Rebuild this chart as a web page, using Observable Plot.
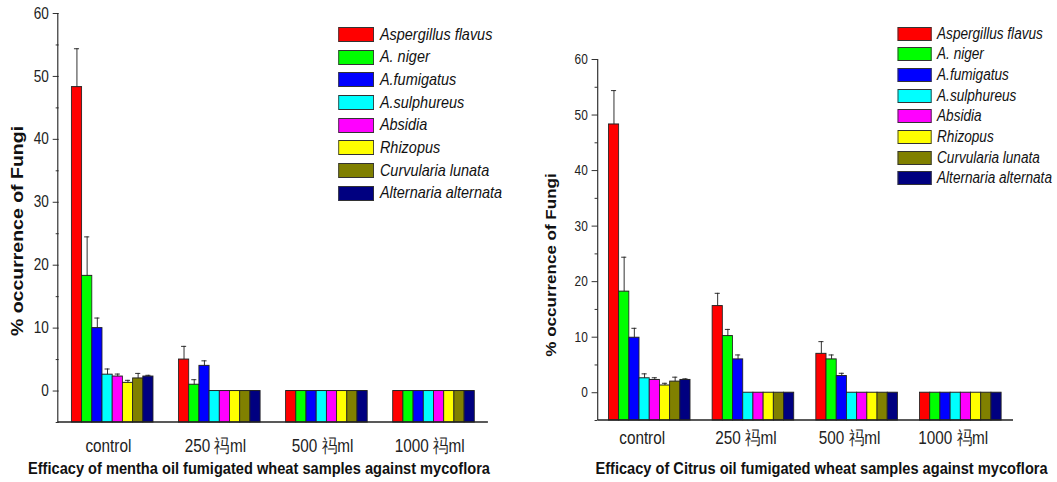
<!DOCTYPE html>
<html><head><meta charset="utf-8">
<script src="https://cdn.jsdelivr.net/npm/d3@7"></script>
<script src="https://cdn.jsdelivr.net/npm/@observablehq/plot@0.6"></script>
<style>
body{margin:0;background:#fff;overflow:hidden}
#stage{position:absolute;left:0;top:0;width:1244px;height:482px;transform:scaleX(0.85);transform-origin:0 0;font-family:Arial,"Liberation Sans",sans-serif;color:#111}
.panel{position:absolute;top:0}
.ytitle{position:absolute;font-weight:bold;white-space:nowrap;transform:translate(-50%,-50%) rotate(-90deg)}
.caption{position:absolute;font-weight:bold;white-space:nowrap;transform:translateX(-50%);font-size:17.2px;line-height:18px}
.legend{position:absolute}
.legend .row{display:flex;align-items:center}
.legend .sw{border:1px solid #333;box-sizing:border-box}
.legend .lab{font-style:italic;white-space:nowrap}
</style></head><body><div id="stage"></div>
<script>
// ---- data ----
const fungi = ["Aspergillus flavus","A. niger","A.fumigatus","A.sulphureus","Absidia","Rhizopus","Curvularia lunata","Alternaria alternata"];
const fungusColors = ["#ff0000","#00ff00","#0000ff","#00ffff","#ff00ff","#ffff00","#808000","#000080"];
const doses = ["control","250 祃ml","500 祃ml","1000 祃ml"];
const yTicks = [0,10,20,30,40,50,60];
const yMinorTicks = [-5,5,15,25,35,45,55];
const yDomain = [-5,60];

// mentha oil: mean values and upper error (sd) per dose, in fungi order
const menthaControl = [48.3,18.3,10.0,2.6,2.3,1.3,2.0,2.3];
const menthaControlSd = [6.1,6.2,1.6,0.9,0.4,0.4,0.8,0.2];
const mentha250 = [5.0,1.0,4.0,0,0,0,0,0];
const mentha250Sd = [2.1,0.8,0.8,0,0,0,0,0];
const mentha500 = [0,0,0,0,0,0,0,0];
const mentha500Sd = [0,0,0,0,0,0,0,0];
const mentha1000 = [0,0,0,0,0,0,0,0];
const mentha1000Sd = [0,0,0,0,0,0,0,0];

// citrus oil
const citrusControl = [48.3,18.2,9.9,2.6,2.3,1.3,2.0,2.3];
const citrusControlSd = [6.1,6.2,1.7,0.8,0.4,0.4,0.8,0.2];
const citrus250 = [15.6,10.2,6.0,0,0,0,0,0];
const citrus250Sd = [2.3,1.2,0.8,0,0,0,0,0];
const citrus500 = [7.0,6.0,3.0,0,0,0,0,0];
const citrus500Sd = [2.2,0.8,0.5,0,0,0,0,0];
const citrus1000 = [0,0,0,0,0,0,0,0];
const citrus1000Sd = [0,0,0,0,0,0,0,0];

const menthaTitle = "Efficacy of mentha oil fumigated wheat samples against mycoflora";
const citrusTitle = "Efficacy of Citrus oil fumigated wheat samples against mycoflora";
const yTitle = "% occurrence of Fungi";

function rowsOf(valueSets, sdSets){
  const rows = [];
  doses.forEach((dose, i) => {
    fungi.forEach((f, j) => {
      const v = valueSets[i][j], sd = sdSets[i][j];
      rows.push({dose, fungus: f, value: v, sd, top: v + sd});
    });
  });
  return rows;
}
const menthaRows = rowsOf([menthaControl,mentha250,mentha500,mentha1000],[menthaControlSd,mentha250Sd,mentha500Sd,mentha1000Sd]);
const citrusRows = rowsOf([citrusControl,citrus250,citrus500,citrus1000],[citrusControlSd,citrus250Sd,citrus500Sd,citrus1000Sd]);

const stage = document.getElementById("stage");

function panel(rows, o){
  const errs = rows.filter(d => d.sd > 0);
  const plot = Plot.plot({
    width: o.width, height: 482,
    marginLeft: o.ml, marginRight: o.mr, marginTop: o.mt, marginBottom: o.mb,
    style: {fontFamily: "Arial, 'Liberation Sans', sans-serif", color: "#222", background: "transparent", overflow: "visible"},
    fx: {domain: doses, padding: 0, label: null},
    x: {domain: fungi, paddingInner: 0, paddingOuter: o.po, axis: null},
    y: {domain: yDomain, label: null},
    color: {domain: fungi, range: fungusColors},
    marks: [
      Plot.axisY(yMinorTicks, {tickSize: 3.5, tickFormat: () => "", label: null, stroke: "#222"}),
      Plot.axisY(yTicks, {tickSize: 7, tickPadding: 5, fontSize: o.tickFont, label: null, stroke: "#222"}),
      Plot.axisFx({anchor: "bottom", tickSize: 0, tickPadding: o.fxPad, fontSize: 18, label: null, dx: o.fxDx}),
      Plot.barY(rows, {fx: "dose", x: "fungus", y1: yDomain[0], y2: "value", fill: "fungus", stroke: "#222", strokeWidth: 1}),
      Plot.ruleX(errs, {fx: "dose", x: "fungus", y1: "value", y2: "top", stroke: "#222", strokeWidth: 1}),
      Plot.tickY(errs, {fx: "dose", x: "fungus", y: "top", stroke: "#222", strokeWidth: 1, insetLeft: o.capInset, insetRight: o.capInset})
    ]
  });
  const y = plot.scale("y");
  const svg = d3.select(plot);
  svg.append("line").attr("x1", o.ml).attr("x2", o.ml).attr("y1", y.apply(yDomain[1])).attr("y2", y.apply(yDomain[0])).attr("stroke", "#222").attr("stroke-width", 1.3);
  svg.append("line").attr("x1", o.ml).attr("x2", o.width - o.mr).attr("y1", y.apply(yDomain[0])).attr("y2", y.apply(yDomain[0])).attr("stroke", "#222").attr("stroke-width", 1.3);
  plot.classList.add("panel");
  plot.style.left = o.left + "px";
  stage.appendChild(plot);

  const t = document.createElement("div");
  t.className = "ytitle"; t.textContent = yTitle;
  t.style.left = o.titleX + "px"; t.style.top = o.titleY + "px"; t.style.fontSize = o.titleFont + "px";
  stage.appendChild(t);

  const c = document.createElement("div");
  c.className = "caption"; c.textContent = o.caption;
  c.style.left = o.capX + "px"; c.style.top = o.capY + "px";
  stage.appendChild(c);

  const lg = document.createElement("div");
  lg.className = "legend"; lg.style.left = o.legX + "px"; lg.style.top = o.legY + "px";
  fungi.forEach((f, i) => {
    const r = document.createElement("div"); r.className = "row"; r.style.height = o.legRow + "px";
    const s = document.createElement("div"); s.className = "sw";
    s.style.width = o.swW + "px"; s.style.height = o.swH + "px"; s.style.background = fungusColors[i];
    const l = document.createElement("span"); l.className = "lab"; l.textContent = f;
    l.style.fontSize = o.legFont + "px"; l.style.marginLeft = o.legGap + "px";
    r.appendChild(s); r.appendChild(l); lg.appendChild(r);
  });
  stage.appendChild(lg);
}

panel(menthaRows, {left: 0, width: 621, ml: 68, mr: 47, mt: 13, mb: 60, po: 0.89, tickFont: 16, fxPad: 17, fxDx: -5, capInset: 3,
  titleX: 20.5, titleY: 231, titleFont: 19.5, caption: menthaTitle, capX: 304.7, capY: 459,
  legX: 397.6, legY: 23.2, legRow: 22.7, swW: 42.4, swH: 15, legFont: 17, legGap: 7});

panel(citrusRows, {left: 621, width: 623, ml: 82.2, mr: 52.2, mt: 59, mb: 62, po: 0.945, tickFont: 14, fxPad: 11, fxDx: -9, capInset: 3,
  titleX: 649, titleY: 265, titleFont: 17, caption: citrusTitle, capX: 966.5, capY: 459,
  legX: 1056, legY: 23.3, legRow: 20.7, swW: 40.4, swH: 14, legFont: 16, legGap: 6});
</script></body></html>
